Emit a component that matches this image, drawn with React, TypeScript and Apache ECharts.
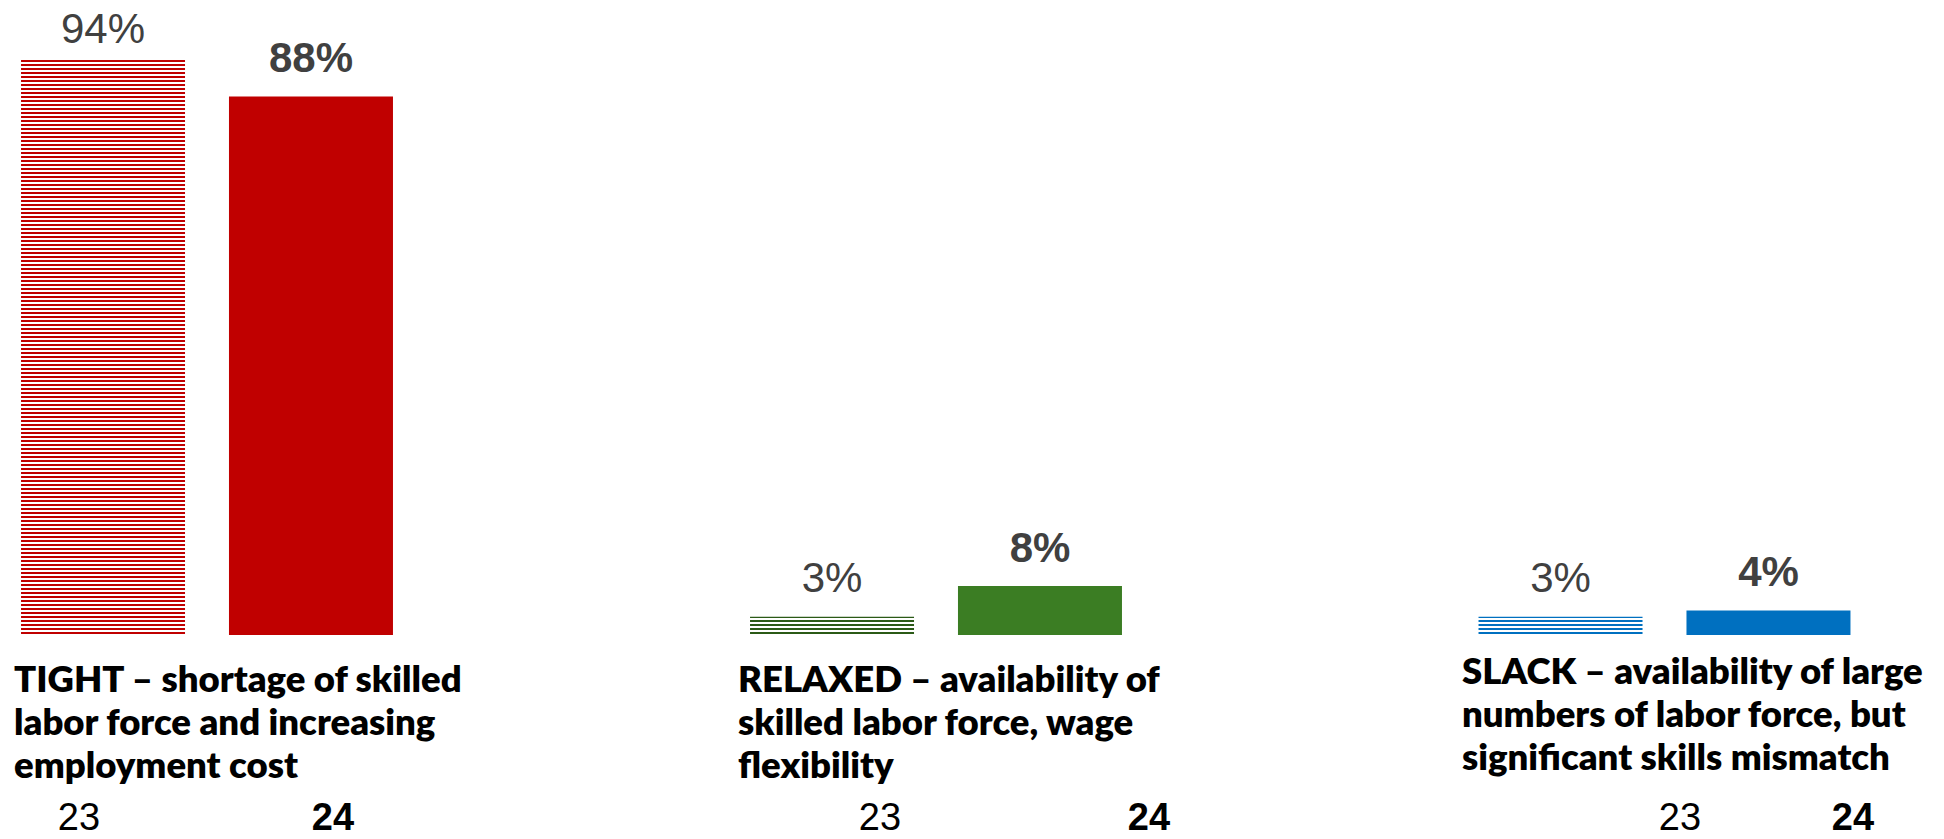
import React, { useEffect, useRef } from 'react';
import * as echarts from 'echarts';

const categories = [
  'TIGHT – shortage of skilled\nlabor force and increasing\nemployment cost',
  'RELAXED – availability of\nskilled labor force, wage\nflexibility',
  'SLACK – availability of large\nnumbers of labor force, but\nsignificant skills mismatch',
];
const yearLabels = ['23', '24'];
const values2023 = [94, 3, 3];
const values2024 = [88, 8, 4];
const solidColors = ['#C00000', '#3B7D23', '#0070C0'];
const stripeColors = ['#C00000', '#2B5A17', '#0070C0'];

// layout (pixels)
const groupCenters = [207, 936, 1664.5];
const textPos = [
  { x: 14, y: 721 },
  { x: 738, y: 721 },
  { x: 1462, y: 713 },
];
const yearLabelX = [
  [79, 333],
  [880, 1149],
  [1680, 1853],
];

function stripe(color: string) {
  const c = document.createElement('canvas');
  c.width = 4;
  c.height = 4;
  const ctx = c.getContext('2d')!;
  ctx.fillStyle = '#ffffff';
  ctx.fillRect(0, 0, 4, 4);
  ctx.fillStyle = color;
  ctx.fillRect(0, 0, 4, 2);
  return { image: c, repeat: 'repeat', imageWidth: 4, imageHeight: 4 } as any;
}

export default function App() {
  const ref = useRef<HTMLDivElement>(null);
  useEffect(() => {
    const chart = echarts.init(ref.current!, undefined, { renderer: 'svg' });
    const grids: any[] = [];
    const xAxes: any[] = [];
    const yAxes: any[] = [];
    const series: any[] = [];
    const graphics: any[] = [];
    categories.forEach((cat, i) => {
      grids.push({ left: groupCenters[i] - 200, width: 400, top: 23, bottom: 204 });
      xAxes.push({ type: 'category', gridIndex: i, data: [cat], show: false });
      yAxes.push({ type: 'value', gridIndex: i, min: 0, max: 100, show: false });
      series.push({
        type: 'bar',
        name: '2023',
        xAxisIndex: i,
        yAxisIndex: i,
        barWidth: 164,
        barGap: '26.8%',
        data: [i === 0 ? { value: values2023[i], label: { distance: 10 } } : values2023[i]],
        itemStyle: { color: stripe(stripeColors[i]) },
        label: {
          show: true,
          position: 'top',
          distance: 18,
          formatter: '{c}%',
          fontSize: 42,
          fontFamily: 'Liberation Sans, Arial, sans-serif',
          color: '#404040',
        },
      });
      series.push({
        type: 'bar',
        name: '2024',
        xAxisIndex: i,
        yAxisIndex: i,
        barWidth: 164,
        barGap: '26.8%',
        data: [values2024[i]],
        itemStyle: { color: solidColors[i] },
        label: {
          show: true,
          position: 'top',
          distance: 18,
          formatter: '{c}%',
          fontSize: 42,
          fontWeight: 'bold',
          fontFamily: 'Liberation Sans, Arial, sans-serif',
          color: '#404040',
        },
      });
      graphics.push({
        type: 'text',
        x: textPos[i].x,
        y: textPos[i].y,
        style: {
          text: cat,
          font: '800 36.5px Lato, sans-serif',
          fill: '#000000',
          lineHeight: 43,
          verticalAlign: 'middle',
          align: 'left',
        },
      });
      yearLabels.forEach((yl, j) => {
        graphics.push({
          type: 'text',
          x: yearLabelX[i][j],
          y: 817,
          style: {
            text: yl,
            font: (j === 1 ? 'bold ' : '') + '38px "Liberation Sans", Arial, sans-serif',
            fill: '#000000',
            align: 'center',
            verticalAlign: 'middle',
          },
        });
      });
    });
    chart.setOption({
      animation: false,
      backgroundColor: '#ffffff',
      grid: grids,
      xAxis: xAxes,
      yAxis: yAxes,
      series,
      graphic: graphics,
    });
    return () => chart.dispose();
  }, []);
  return (
    <div
      ref={ref}
      style={{ position: 'absolute', left: 0, top: 0, width: 1944, height: 839 }}
    />
  );
}
